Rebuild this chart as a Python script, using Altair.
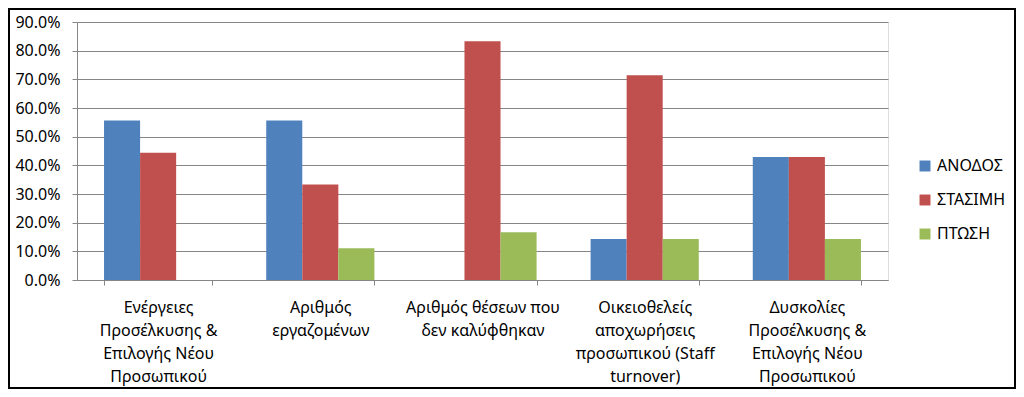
import altair as alt
import pandas as pd

categories = [
    "Ενέργειες|Προσέλκυσης &|Επιλογής Νέου|Προσωπικού",
    "Αριθμός|εργαζομένων",
    "Αριθμός θέσεων που|δεν καλύφθηκαν",
    "Οικειοθελείς|αποχωρήσεις|προσωπικού (Staff|turnover)",
    "Δυσκολίες|Προσέλκυσης &|Επιλογής Νέου|Προσωπικού",
]
series = ["ΑΝΟΔΟΣ", "ΣΤΑΣΙΜΗ", "ΠΤΩΣΗ"]
anodos = [0.556, 0.556, 0.0, 0.143, 0.429]
stasimi = [0.444, 0.333, 0.833, 0.714, 0.429]
ptosi = [0.0, 0.111, 0.167, 0.143, 0.143]
colors = ["#4F81BD", "#C0504D", "#9BBB59"]
y_ticks = [0.0, 0.1, 0.2, 0.3, 0.4, 0.5, 0.6, 0.7, 0.8, 0.9]

rows = []
for s, vals in zip(series, [anodos, stasimi, ptosi]):
    for c, v in zip(categories, vals):
        rows.append({"cat": c, "series": s, "value": v})
df = pd.DataFrame(rows)

FONT = "Noto Sans"
FS = 16
W, H = 811, 258
PL, PT, PR, PB = 69, 14, 128, 109

bars = alt.Chart(df).mark_bar().encode(
    x=alt.X("cat:N", sort=categories, title=None,
            scale=alt.Scale(paddingInner=0.333, paddingOuter=0.1667),
            axis=alt.Axis(labelExpr="datum.value ? split(datum.value, '|') : ''", labelAngle=0,
                          labelFontSize=FS, labelFont=FONT, labelColor="#000000",
                          labelLineHeight=23, labelPadding=14, labelAlign="center",
                          labelBaseline="top",
                          domainColor="#868686", tickColor="#868686", tickSize=5,
                          tickBand="extent", grid=False, labelLimit=300)),
    xOffset=alt.XOffset("series:N", sort=series),
    y=alt.Y("value:Q", title=None,
            scale=alt.Scale(domain=[0, 0.9], nice=False),
            axis=alt.Axis(values=y_ticks, format=".1%", labelFontSize=FS, labelFont=FONT,
                          labelColor="#000000", labelPadding=12, tickSize=5,
                          tickColor="#868686", domainColor="#868686",
                          gridColor="#868686", gridWidth=1)),
    color=alt.Color("series:N", sort=series,
                    scale=alt.Scale(domain=series, range=colors),
                    legend=alt.Legend(title=None, orient="none", legendX=840, legendY=136,
                                      symbolType="square", symbolSize=120,
                                      symbolStrokeWidth=0,
                                      labelFontSize=FS, labelFont=FONT, labelColor="#000000",
                                      rowPadding=18, labelOffset=4)),
)

border = alt.Chart(pd.DataFrame({"a": [0]})).mark_rect(
    fill=None, stroke="#000000", strokeWidth=2
).encode(
    x=alt.value(-PL + 1), x2=alt.value(W + PR - 1),
    y=alt.value(-PT + 1), y2=alt.value(H + PB - 1),
)

chart = alt.layer(bars, border).properties(
    width=W, height=H,
    autosize=alt.AutoSizeParams(type="none"),
    padding={"left": PL, "top": PT, "right": PR, "bottom": PB},
).configure_view(stroke=None).configure(background="#ffffff")

chart.save("out.html", embed_options={"renderer": "svg", "actions": False})
